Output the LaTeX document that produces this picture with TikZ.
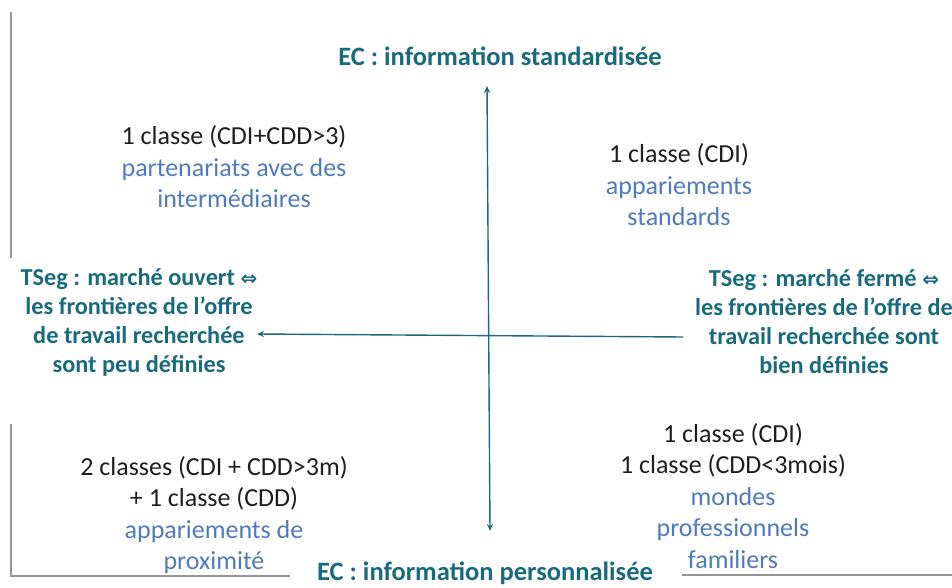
\documentclass[tikz,border=0pt]{standalone}
\usepackage{fontspec}
\setmainfont{Carlito}
\newfontfamily\symfont{DejaVu Sans}
\usetikzlibrary{arrows.meta}
\definecolor{tealc}{RGB}{24,106,126}
\definecolor{bluec}{RGB}{79,122,190}
\definecolor{blackc}{RGB}{30,30,30}
\definecolor{grayc}{RGB}{150,150,150}
\tikzset{
  txt/.style={align=center, inner sep=0pt, font=\fontsize{26}{31.5}\selectfont, text=blackc},
  heading/.style={align=center, inner sep=0pt, font=\bfseries\fontsize{26.5}{29}\selectfont, text=tealc},
  sidehead/.style={heading, font=\bfseries\fontsize{24.3}{29}\selectfont},
  axis/.style={draw=tealc, line width=1.4pt},
  frame/.style={draw=grayc, line width=1.2pt},
}
\newcommand{\eqv}{{\symfont\fontsize{20}{20}\selectfont ⇔}}
\begin{document}
\begin{tikzpicture}[x=1pt,y=-1pt]
\useasboundingbox (0,0) rectangle (952,588);
% gray frame pieces
\draw[frame] (11,12) -- (11,258);
\draw[frame] (11,424) -- (11,576) -- (290,576);
\draw[frame] (682,575) -- (952,575);
% axes
\coordinate (vTop) at (487,86);
\coordinate (vBot) at (490,531);
\coordinate (hR) at (683,337);
\coordinate (hL) at (257,334);
\draw[axis, {Stealth[length=7pt,width=6pt]}-{Stealth[length=7pt,width=6pt]}] (vTop) -- (vBot);
\draw[axis, -{Stealth[length=7pt,width=6pt]}] (hR) -- (hL);
% headings
\node[heading] (top) at (500,56) {EC : information standardisée};
\node[heading] (bot) at (485,573.5) {EC : information personnalisée};
\node[sidehead] (left) at (139,322) {TSeg : marché ouvert \eqv\\les frontières de l’offre\\de travail recherchée\\sont peu définies};
\node[sidehead] (right) at (824,322) {TSeg : marché fermé \eqv\\les frontières de l’offre de\\travail recherchée sont\\bien définies};
% quadrants
\node[txt] (q1) at (234,167) {1 classe (CDI+CDD>3)\\\textcolor{bluec}{partenariats avec des}\\\textcolor{bluec}{intermédiaires}};
\node[txt] (q2) at (679,185) {1 classe (CDI)\\\textcolor{bluec}{appariements}\\\textcolor{bluec}{standards}};
\node[txt] (q3) at (214,515) {2 classes (CDI + CDD>3m)\\+ 1 classe (CDD)\\\textcolor{bluec}{appariements de}\\\textcolor{bluec}{proximité}};
\node[txt] (q4) at (733,496) {1 classe (CDI)\\1 classe (CDD<3mois)\\\textcolor{bluec}{mondes}\\\textcolor{bluec}{professionnels}\\\textcolor{bluec}{familiers}};
\end{tikzpicture}
\end{document}
